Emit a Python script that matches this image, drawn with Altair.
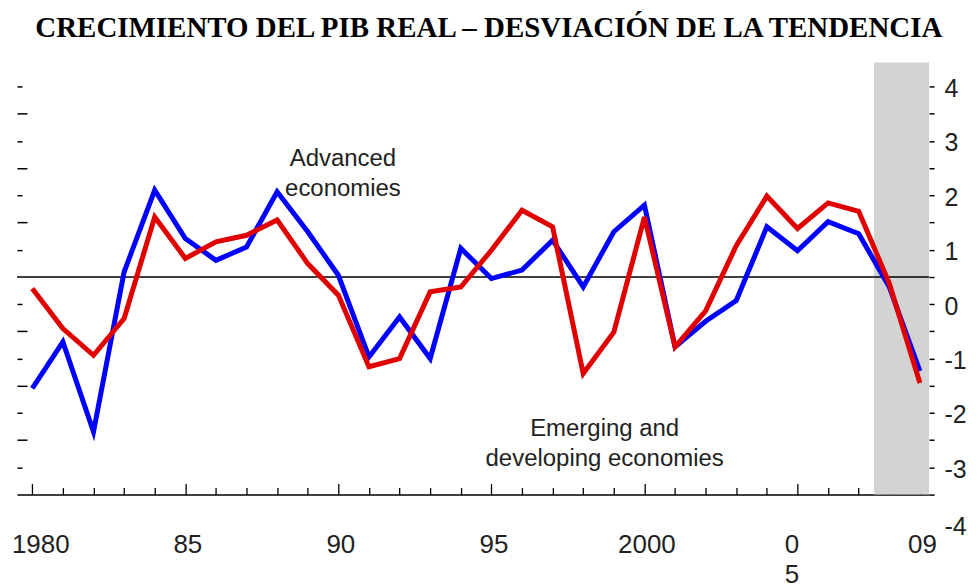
import altair as alt
import pandas as pd

# ---- data (left-axis units, 0 = reference line) ----
years = list(range(1980, 2010))
advanced = [-4.10, -2.39, -5.69, 0.18, 3.19, 1.41, 0.61, 1.10, 3.13, 1.66,
            0.06, -2.94, -1.47, -3.00, 1.05, -0.06, 0.25, 1.35, -0.37, 1.66, 2.64,
            -2.57, -1.63, -0.87, 1.84, 0.96, 2.03, 1.59, -0.37, -3.46]
emerging = [-0.43, -1.90, -2.88, -1.53, 2.20, 0.68, 1.29, 1.53, 2.09, 0.49,
            -0.67, -3.30, -3.00, -0.55, -0.37, 0.98, 2.45, 1.84, -3.55, -2.03, 2.20,
            -2.57, -1.25, 1.15, 2.97, 1.78, 2.72, 2.41, -0.24, -3.90]
series_names = ["Advanced economies", "Emerging and developing economies"]
series_colors = ["#0000ff", "#e00000"]

shade_start = [2007.5]
shade_end = [2009.3]

x_label_years = [1980, 1985, 1990, 1995, 2000, 2005, 2009]
x_label_text = ["1980", "85", "90", "95", "2000", "0\n5", "09"]

right_tick_values = [-3.5, -3, -2.5, -2, -1.5, -1, -0.5, 0, 0.5, 1, 1.5, 2, 2.5, 3, 3.5, 4]
left_tick_values = [-7, -6, -5, -4, -3, -2, -1, 1, 2, 3, 4, 5, 6, 7]

annot_text = ["Advanced\neconomies", "Emerging and\ndeveloping economies"]
annot_x = [1990.15, 1998.7]
annot_y = [4.32, -5.58]

title_text = "CRECIMIENTO DEL PIB REAL \u2013 DESVIACI\u00d3N DE LA TENDENCIA"

# ---- tables ----
lines_df = pd.DataFrame({
    "year": years * 2,
    "value": advanced + emerging,
    "series": [series_names[0]] * len(years) + [series_names[1]] * len(years),
    "order": [0] * len(years) + [1] * len(years),
})
shade_df = pd.DataFrame({"start": shade_start, "end": shade_end})
annot_df = pd.DataFrame({"text": annot_text, "year": annot_x, "value": annot_y})

W, H = 914, 433
FONT = "Liberation Sans"

x_dom = [1979.5, 2009.3]
y_dom = [-8, 7.88]
y_right_dom = [-3.5, 4.44]

def xs():
    return alt.Scale(domain=x_dom, nice=False, zero=False)

def ys():
    return alt.Scale(domain=y_dom, nice=False, zero=False)

def lit(t):
    if "\n" in t:
        return "[" + ",".join("'" + p + "'" for p in t.split("\n")) + "]"
    return "'" + t + "'"

x_label_expr = "''"
for yr, t in reversed(list(zip(x_label_years, x_label_text))):
    x_label_expr = f"datum.value == {yr} ? {lit(t)} : ({x_label_expr})"

shade = alt.Chart(shade_df).mark_rect(color="#d3d3d3").encode(
    x=alt.X("start:Q", scale=xs(), axis=None),
    x2="end:Q",
)

zero = alt.Chart(shade_df).mark_rule(color="black", strokeWidth=1.5).encode(
    y=alt.YDatum(0, type="quantitative", scale=ys(), axis=None),
)

lines = alt.Chart(lines_df).mark_line(strokeWidth=5, strokeJoin="miter").encode(
    x=alt.X("year:Q", scale=xs(),
            axis=alt.Axis(orient="top", offset=-H, title=None, labels=False,
                          values=years, domain=True, domainColor="black",
                          domainWidth=1.5, ticks=True, tickColor="black",
                          tickWidth=1.3,
                          tickSize={"condition": {"test": "datum.value % 5 === 0", "value": 11}, "value": 7},
                          grid=False)),
    y=alt.Y("value:Q", scale=ys(),
            axis=alt.Axis(orient="right", offset=-W, title=None, labels=False,
                          values=left_tick_values, domain=False, grid=False,
                          ticks=True, tickColor="black", tickWidth=1.5,
                          tickSize={"condition": {"test": "datum.value % 2 === 0", "value": 10}, "value": 5})),
    color=alt.Color("series:N", scale=alt.Scale(domain=series_names, range=series_colors), legend=None),
    order="order:Q",
    detail="series:N",
)

annots = alt.Chart(annot_df).mark_text(
    font=FONT, fontSize=24, color="#222222", align="center", baseline="middle",
    lineBreak="\n", lineHeight=30,
).encode(
    x=alt.X("year:Q", scale=xs(),
            axis=alt.Axis(orient="bottom", title=None, domain=False, ticks=False,
                          tickSize=0, grid=False, values=x_label_years,
                          labelExpr=x_label_expr, labelFont=FONT, labelFontSize=26,
                          labelColor="#222222", labelPadding=37, labelLineHeight=30,
                          labelOverlap=False, labelFlush=False, labelBaseline="top",
                          labelOffset={"condition": [{"test": "datum.value == 1980", "value": 8},
                                                     {"test": "datum.value == 2005", "value": -6}],
                                       "value": 2})),
    y=alt.Y("value:Q", scale=ys(), axis=None),
    text="text:N",
)

right_axis = alt.Chart(shade_df).mark_rule(opacity=0).encode(
    y=alt.YDatum(0, type="quantitative",
                 scale=alt.Scale(domain=y_right_dom, nice=False, zero=False),
                 axis=alt.Axis(orient="right", title=None, values=right_tick_values,
                               domain=False, grid=False, ticks=True, tickSize=5,
                               tickColor="black", tickWidth=1.5,
                               labelExpr="datum.value == -3.5 ? '-4' : (datum.value % 1 == 0 ? toString(datum.value) : '')",
                               labelFont=FONT, labelFontSize=25, labelColor="#222222",
                               labelPadding=10, labelOverlap=False, labelFlush=False,
                               labelBaseline="middle",
                               labelOffset={"condition": {"test": "datum.value == -3.5", "value": 32}, "value": 2})),
)

chart = alt.layer(shade, zero, lines, annots, right_axis).resolve_scale(
    y="independent"
).resolve_axis(
    x="independent", y="independent"
).properties(
    width=W, height=H,
    background="white",
    padding={"left": 3, "top": 5, "right": 2, "bottom": 0},
    title=alt.TitleParams(title_text, font="Liberation Serif", fontSize=29,
                          fontWeight="bold", color="black", anchor="middle",
                          frame="bounds", offset=20),
).configure_view(stroke=None, strokeWidth=0)

chart.save("out.html", embed_options={"renderer": "svg", "actions": False})
